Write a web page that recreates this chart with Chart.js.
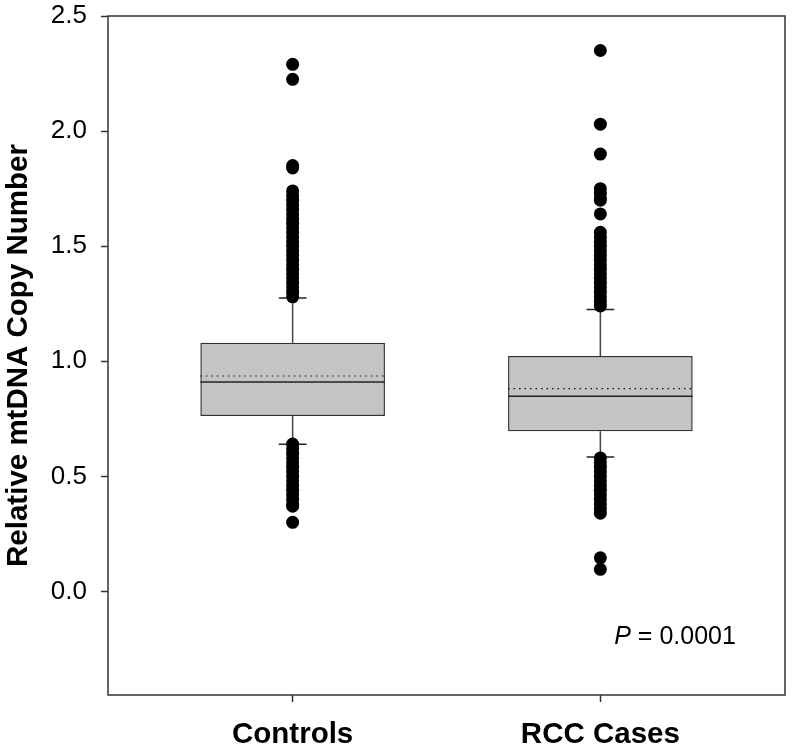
<!DOCTYPE html>
<html>
<head>
<meta charset="utf-8">
<script src="https://cdn.jsdelivr.net/npm/chart.js@4.4.0/dist/chart.umd.min.js"></script>
<style>
  body { margin: 0; background: #fff; }
  #wrap { width: 793px; height: 752px; }
</style>
</head>
<body>
<div id="wrap"><canvas id="myChart"></canvas></div>
<script>
  const groups = ['Controls', 'RCC Cases'];
  const q1 = [0.762, 0.696];
  const q3 = [1.080, 1.023];
  const medians = [0.910, 0.848];
  const means = [0.936, 0.881];
  const whiskerLow = [0.639, 0.584];
  const whiskerHigh = [1.275, 1.225];

  const outliersControls = [2.29, 2.225, 1.85, 1.84,
    1.74, 1.72, 1.70, 1.68, 1.66, 1.64, 1.62, 1.60, 1.58, 1.56, 1.54, 1.52, 1.50,
    1.48, 1.46, 1.44, 1.42, 1.40, 1.38, 1.36, 1.34, 1.32, 1.30, 1.28,
    0.64, 0.62, 0.60, 0.58, 0.56, 0.54, 0.52, 0.50, 0.48, 0.46, 0.44, 0.42, 0.40,
    0.38, 0.37, 0.30];
  const outliersRcc = [2.35, 2.03, 1.90, 1.75, 1.73, 1.71, 1.70, 1.64,
    1.56, 1.54, 1.52, 1.50, 1.48, 1.46, 1.44, 1.42, 1.40, 1.38, 1.36, 1.34, 1.32,
    1.30, 1.28, 1.26, 1.24,
    0.58, 0.56, 0.54, 0.52, 0.50, 0.48, 0.46, 0.44, 0.42, 0.40, 0.38, 0.36, 0.34,
    0.146, 0.096];

  const yTicks = [0, 0.5, 1.0, 1.5, 2.0, 2.5];
  const yMin = -0.45;
  const yMax = 2.5;
  const pText = '0.0001';

  const boxHalf = 0.3;
  const capHalf = 0.045;
  const fontFam = '"Liberation Sans", Arial, sans-serif';

  // line pieces separated by a null point so they do not join
  let segments = (pieces) => {
    let pts = [];
    pieces.forEach(p => {
      pts.push(p[0], p[1], { x: p[0].x, y: null });
    });
    return pts;
  };

  let whiskers = [], caps = [], medianLines = [], meanLines = [], boxes = [], dots = [];
  groups.forEach((g, i) => {
    let x = i + 1;
    boxes.push({ x: x, y: [q1[i], q3[i]] });
    whiskers.push([{ x: x, y: q3[i] }, { x: x, y: whiskerHigh[i] }]);
    whiskers.push([{ x: x, y: q1[i] }, { x: x, y: whiskerLow[i] }]);
    caps.push([{ x: x - capHalf, y: whiskerHigh[i] }, { x: x + capHalf, y: whiskerHigh[i] }]);
    caps.push([{ x: x - capHalf, y: whiskerLow[i] }, { x: x + capHalf, y: whiskerLow[i] }]);
    medianLines.push([{ x: x - boxHalf, y: medians[i] }, { x: x + boxHalf, y: medians[i] }]);
    meanLines.push([{ x: x - boxHalf, y: means[i] }, { x: x + boxHalf, y: means[i] }]);
  });
  outliersControls.forEach(v => dots.push({ x: 1, y: v }));
  outliersRcc.forEach(v => dots.push({ x: 2, y: v }));

  const frame = {
    id: 'frame',
    afterDatasetsDraw(chart) {
      let { ctx, chartArea: a } = chart;
      ctx.save();
      ctx.strokeStyle = '#333';
      ctx.lineWidth = 1.5;
      ctx.strokeRect(a.left, a.top, a.right - a.left, a.bottom - a.top);
      ctx.restore();
    }
  };

  const pLabel = {
    id: 'pLabel',
    afterDatasetsDraw(chart) {
      let { ctx, scales } = chart;
      let px = scales.x.getPixelForValue(2.045);
      let py = scales.y.getPixelForValue(-0.2);
      ctx.save();
      ctx.fillStyle = '#000';
      ctx.textBaseline = 'middle';
      ctx.font = 'italic 25px ' + fontFam;
      ctx.fillText('P', px, py);
      let w = ctx.measureText('P').width;
      ctx.font = '25px ' + fontFam;
      ctx.fillText(' = ' + pText, px + w, py);
      ctx.restore();
    }
  };

  let lineSet = (data, order, extra) => Object.assign({
    type: 'line',
    data: data,
    order: order,
    borderColor: '#333',
    borderWidth: 1.5,
    pointRadius: 0,
    fill: false,
    spanGaps: false
  }, extra);

  let ctx = document.getElementById('myChart').getContext('2d');
  let chart = new Chart(ctx, {
    type: 'bar',
    data: {
      datasets: [
        {
          type: 'scatter',
          data: dots,
          order: 0,
          pointRadius: 6.5,
          pointBackgroundColor: '#000',
          pointBorderWidth: 0
        },
        lineSet(segments(medianLines), 1, { borderColor: '#222' }),
        lineSet(segments(meanLines), 2, { borderColor: '#111', borderWidth: 1.2, borderDash: [1.5, 4] }),
        lineSet(segments(caps), 3, { borderColor: '#222' }),
        lineSet(segments(whiskers), 4, { borderColor: '#444' }),
        {
          type: 'bar',
          data: boxes,
          order: 5,
          backgroundColor: '#c4c4c4',
          borderColor: '#333',
          borderWidth: 1.5,
          borderSkipped: false,
          barPercentage: boxHalf * 2,
          categoryPercentage: 1.0
        }
      ]
    },
    options: {
      responsive: true,
      maintainAspectRatio: false,
      animation: false,
      layout: { padding: { top: 16, right: 8, left: 0, bottom: 0 } },
      plugins: {
        legend: { display: false },
        tooltip: { enabled: false }
      },
      scales: {
        x: {
          type: 'linear',
          min: 0.4,
          max: 2.6,
          offset: false,
          afterBuildTicks: (scale) => { scale.ticks = groups.map((g, i) => ({ value: i + 1 })); },
          afterFit: (scale) => { scale.height = 57; scale.paddingLeft = 0; scale.paddingRight = 0; },
          border: { display: false },
          grid: { offset: false, drawOnChartArea: false, drawTicks: true, tickLength: 7, tickColor: '#333', tickWidth: 1.5 },
          ticks: {
            autoSkip: false,
            maxRotation: 0,
            padding: 15,
            color: '#000',
            font: { family: fontFam, size: 29.5, weight: 'bold' },
            callback: (v) => groups[Math.round(v) - 1]
          }
        },
        y: {
          min: yMin,
          max: yMax,
          afterBuildTicks: (scale) => { scale.ticks = yTicks.map(v => ({ value: v })); },
          afterFit: (scale) => { scale.width = 108; scale.paddingTop = 0; scale.paddingBottom = 0; },
          border: { display: false },
          grid: { drawOnChartArea: false, drawTicks: true, tickLength: 7, tickColor: '#333', tickWidth: 1.5 },
          ticks: {
            padding: 14,
            color: '#000',
            font: { family: fontFam, size: 26 },
            callback: (v) => v.toFixed(1)
          },
          title: {
            display: true,
            text: 'Relative mtDNA Copy Number',
            color: '#000',
            padding: { top: 1, bottom: 0 },
            font: { family: fontFam, size: 29.5, weight: 'bold' }
          }
        }
      }
    },
    plugins: [frame, pLabel]
  });
</script>
</body>
</html>
